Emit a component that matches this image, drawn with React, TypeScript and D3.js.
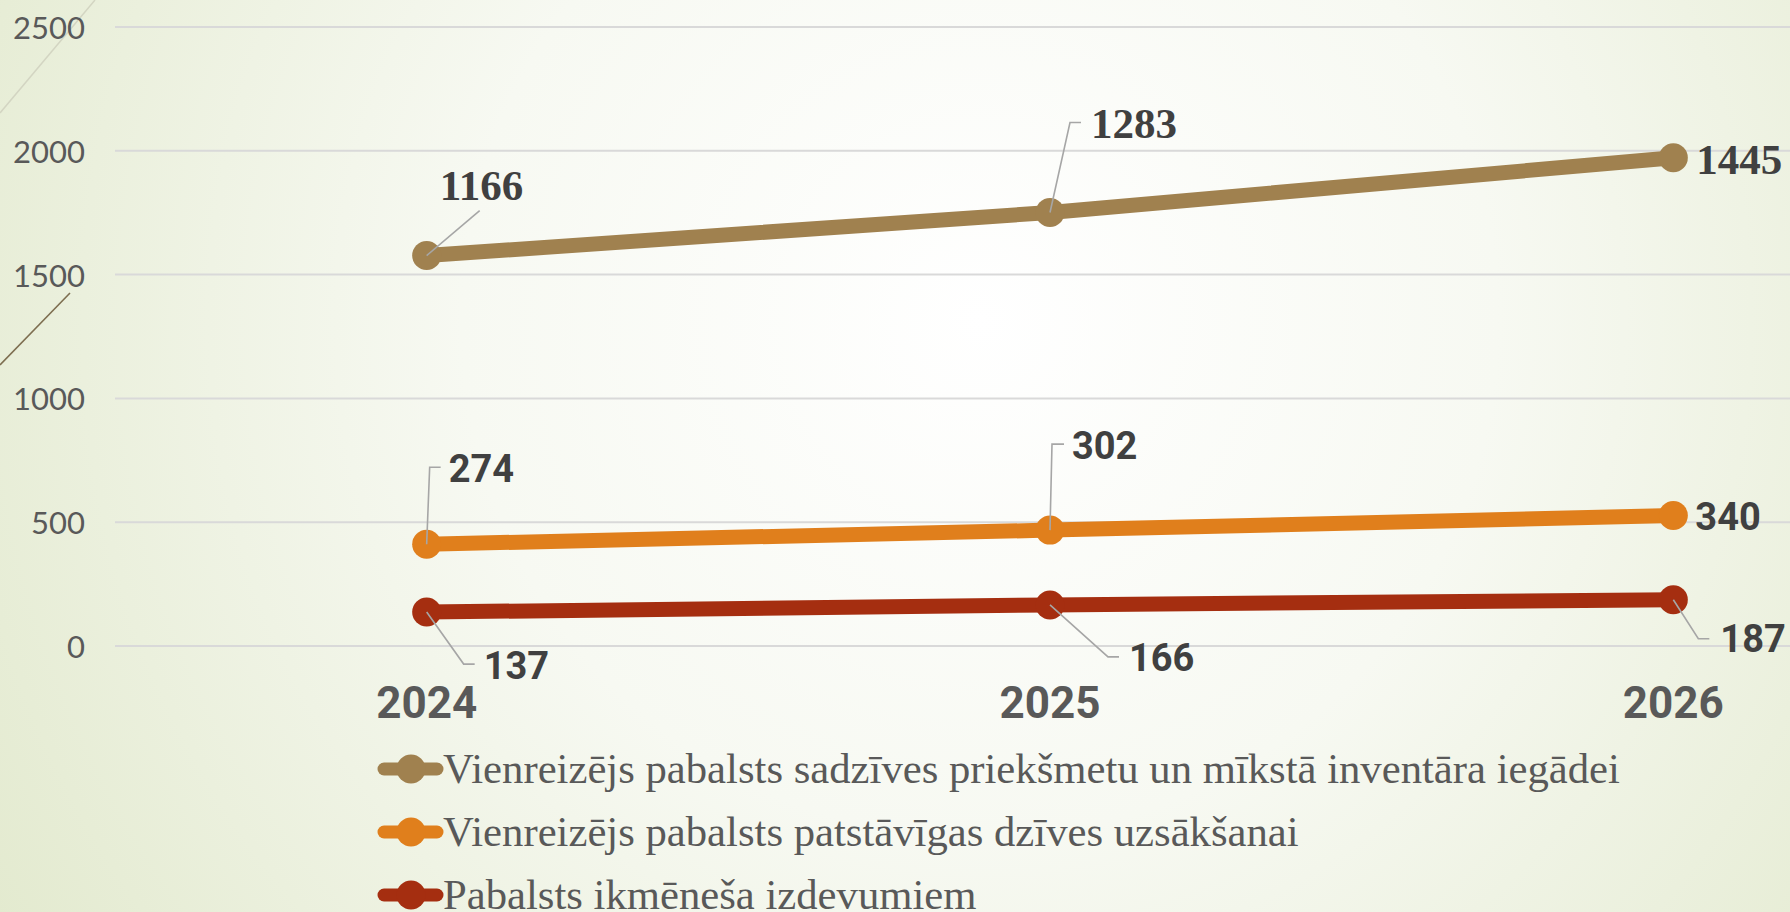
import React, { useEffect, useRef } from "react";
import * as d3 from "d3";

const years = ["2024", "2025", "2026"];
const seriesNames = [
  "Vienreizējs pabalsts sadzīves priekšmetu un mīkstā inventāra iegādei",
  "Vienreizējs pabalsts patstāvīgas dzīves uzsākšanai",
  "Pabalsts ikmēneša izdevumiem",
];
const householdItems = [1166, 1283, 1445];
const independentLife = [274, 302, 340];
const monthlyCosts = [137, 166, 187];
const yTicks = [0, 500, 1000, 1500, 2000, 2500];

const seriesValues = [householdItems, independentLife, monthlyCosts];
const colors = ["#A0814F", "#E07F1C", "#A52E10"];

// label placement relative to each point: text start (dx, dy) and leader polyline
const labelLayout = [
  [
    { dx: 13, dy: -56, leader: [[0, 0], [53, -45]] },
    { dx: 41, dy: -74, leader: [[0, 0], [20, -90], [31, -90]] },
    { dx: 23, dy: 16, leader: null },
  ],
  [
    { dx: 22, dy: -62, leader: [[0, 0], [3, -77], [14, -77]] },
    { dx: 22, dy: -71, leader: [[0, 0], [2, -86], [14, -86]] },
    { dx: 22, dy: 14, leader: null },
  ],
  [
    { dx: 57, dy: 67, leader: [[0, 0], [37, 52], [48, 52]] },
    { dx: 79, dy: 66, leader: [[0, 0], [58, 52], [69, 52]] },
    { dx: 47, dy: 52, leader: [[0, 0], [25, 39], [36, 39]] },
  ],
];

const W = 1790;
const H = 912;

export default function App() {
  const svgRef = useRef<SVGSVGElement>(null);

  useEffect(() => {
    document.body.style.margin = "0";
    const svg = d3.select(svgRef.current);
    svg.selectAll("*").remove();

    const x = d3.scaleBand<string>().domain(years).range([115, 1985]);
    const y = d3.scaleLinear().domain([0, 2500]).range([646, 27]);
    const cx = (yr: string) => (x(yr) as number) + x.bandwidth() / 2;

    // background
    const defs = svg.append("defs");
    const grad = defs
      .append("radialGradient")
      .attr("id", "bg")
      .attr("gradientUnits", "userSpaceOnUse")
      .attr("cx", 980)
      .attr("cy", 320)
      .attr("r", 1150);
    grad.append("stop").attr("offset", "0%").attr("stop-color", "#ffffff");
    grad.append("stop").attr("offset", "45%").attr("stop-color", "#f7f9f2");
    grad.append("stop").attr("offset", "100%").attr("stop-color", "#e3eacf");
    svg.append("rect").attr("width", W).attr("height", H).attr("fill", "url(#bg)");

    // slide decoration
    svg.append("line").attr("x1", 0).attr("y1", 113).attr("x2", 95).attr("y2", 0)
      .attr("stroke", "#d3d5c2").attr("stroke-width", 1.5);
    svg.append("line").attr("x1", 0).attr("y1", 365).attr("x2", 70).attr("y2", 293)
      .attr("stroke", "#7d6e50").attr("stroke-width", 1.6);

    // grid
    svg.append("g")
      .selectAll("line")
      .data(yTicks)
      .join("line")
      .attr("x1", 115)
      .attr("x2", W)
      .attr("y1", (d) => y(d))
      .attr("y2", (d) => y(d))
      .attr("stroke", "#d9d9d9")
      .attr("stroke-width", 2);

    svg.append("g")
      .selectAll("text")
      .data(yTicks)
      .join("text")
      .attr("x", 85)
      .attr("y", (d) => y(d))
      .attr("text-anchor", "end")
      .attr("dominant-baseline", "central")
      .attr("fill", "#595959")
      .style("font-family", "Lato, 'Noto Sans', sans-serif")
      .style("font-size", "31px")
      .text((d) => d);

    svg.append("g")
      .selectAll("text")
      .data(years)
      .join("text")
      .attr("x", (d) => cx(d))
      .attr("y", 718)
      .attr("text-anchor", "middle")
      .attr("fill", "#595959")
      .style("font-family", "Roboto, sans-serif")
      .style("font-weight", "bold")
      .style("font-size", "44px")
      .text((d) => d);

    // stacked lines
    const table = years.map((yr, i) => ({
      year: yr,
      s0: householdItems[i],
      s1: independentLife[i],
      s2: monthlyCosts[i],
    }));
    const stacked = d3.stack<any>().keys(["s2", "s1", "s0"])(table);
    const stackFor = (si: number) => stacked[2 - si];

    const line = d3
      .line<any>()
      .x((d) => cx(d.data.year))
      .y((d) => y(d[1]));

    seriesValues.forEach((vals, si) => {
      const layer = stackFor(si);
      const g = svg.append("g");
      g.append("path")
        .datum(layer)
        .attr("d", line)
        .attr("fill", "none")
        .attr("stroke", colors[si])
        .attr("stroke-width", 15)
        .attr("stroke-linecap", "round")
        .attr("stroke-linejoin", "round");
      g.selectAll("circle")
        .data(layer)
        .join("circle")
        .attr("cx", (d: any) => cx(d.data.year))
        .attr("cy", (d: any) => y(d[1]))
        .attr("r", 14.5)
        .attr("fill", colors[si]);
    });

    // data labels
    seriesValues.forEach((vals, si) => {
      const layer = stackFor(si);
      const g = svg.append("g");
      layer.forEach((d: any, i: number) => {
        const px = cx(d.data.year);
        const py = y(d[1]);
        const lay = labelLayout[si][i];
        if (lay.leader) {
          g.append("polyline")
            .attr("points", lay.leader.map((p) => `${px + p[0]},${py + p[1]}`).join(" "))
            .attr("fill", "none")
            .attr("stroke", "#a6a6a6")
            .attr("stroke-width", 1.6);
        }
        g.append("text")
          .attr("x", px + lay.dx)
          .attr("y", py + lay.dy)
          .attr("fill", "#404040")
          .style("font-family", si === 0 ? "'Liberation Serif', serif" : "Roboto, sans-serif")
          .style("font-weight", "bold")
          .style("font-size", si === 0 ? "43px" : "38px")
          .text(vals[i]);
      });
    });

    // legend
    const legend = svg.append("g");
    seriesNames.forEach((name, si) => {
      const ly = 769 + si * 63;
      legend.append("line")
        .attr("x1", 384).attr("x2", 437).attr("y1", ly).attr("y2", ly)
        .attr("stroke", colors[si]).attr("stroke-width", 13).attr("stroke-linecap", "round");
      legend.append("circle").attr("cx", 411).attr("cy", ly).attr("r", 14.5).attr("fill", colors[si]);
      legend.append("text")
        .attr("x", 443)
        .attr("y", ly + 14)
        .attr("fill", "#595959")
        .style("font-family", "'Liberation Serif', serif")
        .style("font-size", "42.7px")
        .text(name);
    });
  }, []);

  return <svg ref={svgRef} width={W} height={H} style={{ display: "block" }} />;
}
